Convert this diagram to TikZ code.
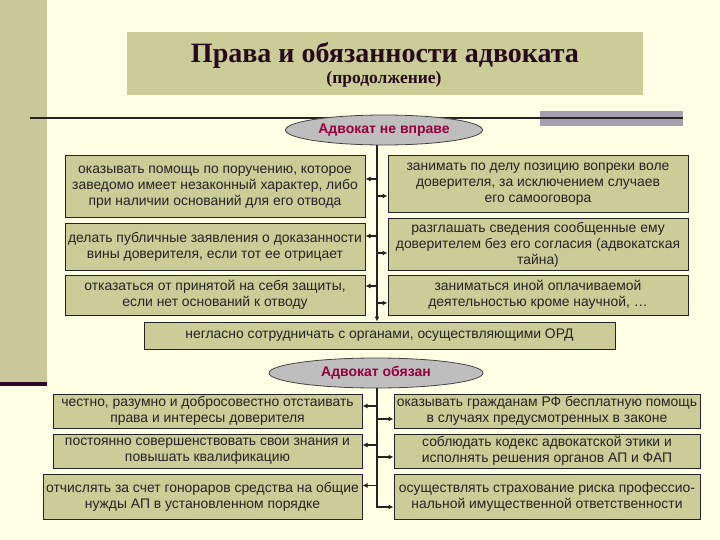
\documentclass[tikz,border=0pt]{standalone}
\usepackage{fontspec}
\setmainfont{Liberation Serif}
\setsansfont{Liberation Sans}
\usepackage{tikz}
\usetikzlibrary{arrows.meta,calc,positioning,shapes.geometric}
\definecolor{paper}{RGB}{255,255,229}
\definecolor{olive}{RGB}{204,204,153}
\definecolor{olivebar}{RGB}{200,200,155}
\definecolor{plum}{RGB}{45,10,40}
\definecolor{slate}{RGB}{165,160,175}
\definecolor{ovalgrey}{RGB}{190,190,190}
\definecolor{crimson}{RGB}{150,0,60}
\definecolor{inkdark}{RGB}{35,35,35}
\definecolor{titleink}{RGB}{40,10,30}
\tikzset{
  >={Latex[length=5pt,width=5pt]},
  flow/.style={->, line width=1.3pt, draw=inkdark},
  box/.style={
    draw=inkdark,
    line width=1pt,
    fill=olive,
    align=center,
    inner sep=0.5pt,
    text=inkdark,
    font=\sffamily\fontsize{13.9}{16}\selectfont
  },
  oval/.style={
    ellipse,
    draw=inkdark!85,
    line width=0.8pt,
    fill=ovalgrey,
    text=crimson,
    inner sep=0pt,
    font=\sffamily\bfseries\fontsize{14}{16}\selectfont
  },
  titlebox/.style={fill=olive, minimum width=516pt, minimum height=63pt}
}
\begin{document}
\begin{tikzpicture}[x=1pt,y=-1pt]
  % page
  \fill[paper] (0,0) rectangle (720,540);
  \fill[olivebar] (0,0) rectangle (47,383);
  \fill[plum] (0,382) rectangle (47,386);
  \useasboundingbox (0,0) rectangle (720,540);

  % heading
  \node[titlebox] (head) at (385,63.5) {};
  \node[font=\bfseries\fontsize{28}{30}\selectfont,text=titleink] (title) at (385,55) {Права и обязанности адвоката};
  \node[font=\bfseries\fontsize{17.5}{19}\selectfont,text=titleink] (subtitle) at (384,79) {(продолжение)};
  \fill[slate] (540,111) rectangle (683,126);
  \draw[line width=2pt,inkdark] (30,118) -- (683,118);

  % Адвокат не вправе
  \node[oval,minimum width=197pt,minimum height=30pt] (nevprave) at (384,130) {Адвокат не вправе};
  \coordinate (trunk1) at (377,145);

  \node[box,minimum width=300pt,minimum height=62pt] (forbid1) at (215,187) {оказывать помощь по поручению, которое\\заведомо имеет незаконный характер, либо\\при наличии оснований для его отвода};
  \node[box,minimum width=300pt,minimum height=46pt] (forbid2) at (215,247) {делать публичные заявления о доказанности\\вины доверителя, если тот ее отрицает};
  \node[box,minimum width=300pt,minimum height=40pt] (forbid3) at (215,295) {отказаться от принятой на себя защиты,\\если нет оснований к отводу};
  \node[box,minimum width=300pt,minimum height=57pt] (forbid4) at (538,184.5) {занимать по делу позицию вопреки воле\\доверителя, за исключением случаев\\его самооговора};
  \node[box,minimum width=300pt,minimum height=51pt] (forbid5) at (538,244.5) {разглашать сведения сообщенные ему\\доверителем без его согласия (адвокатская\\тайна)};
  \node[box,minimum width=300pt,minimum height=40pt] (forbid6) at (538,295) {заниматься иной оплачиваемой\\деятельностью кроме научной, …};
  \node[box,minimum width=471pt,minimum height=27pt] (forbid7) at (379.5,335.5) {негласно сотрудничать с органами, осуществляющими ОРД};

  \draw[flow] (trunk1) -- (trunk1 |- forbid7.north);
  \draw[flow] ($(forbid1.east -| trunk1)+(0,-8)$) -- ($(forbid1.east)+(0,-8)$);
  \draw[flow] ($(forbid2.east -| trunk1)+(0,-11)$) -- ($(forbid2.east)+(0,-11)$);
  \draw[flow] ($(forbid3.east -| trunk1)+(0,-9)$) -- ($(forbid3.east)+(0,-9)$);
  \draw[flow] ($(forbid4.west -| trunk1)+(0,11.5)$) -- ($(forbid4.west)+(0,11.5)$);
  \draw[flow] ($(forbid5.west -| trunk1)+(0,8.5)$) -- ($(forbid5.west)+(0,8.5)$);
  \draw[flow] ($(forbid6.west -| trunk1)+(0,8)$) -- ($(forbid6.west)+(0,8)$);

  % Адвокат обязан
  \node[oval,minimum width=214pt,minimum height=30pt] (obyazan) at (376,373) {Адвокат обязан};
  \coordinate (trunk2) at (377,388);

  \node[box,minimum width=309pt,minimum height=34pt] (duty1) at (207.5,411) {честно, разумно и добросовестно отстаивать\\права и интересы доверителя};
  \node[box,minimum width=309pt,minimum height=34pt] (duty2) at (207.5,451) {постоянно совершенствовать свои знания и\\повышать квалификацию};
  \node[box,minimum width=319pt,minimum height=45pt] (duty3) at (202.5,496.5) {отчислять за счет гонораров средства на общие\\нужды АП в установленном порядке};
  \node[box,minimum width=306pt,minimum height=34pt] (duty4) at (547,411) {оказывать гражданам РФ бесплатную помощь\\в случаях предусмотренных в законе};
  \node[box,minimum width=306pt,minimum height=34pt] (duty5) at (547,451) {соблюдать кодекс адвокатской этики и\\исполнять решения органов АП и ФАП};
  \node[box,minimum width=306pt,minimum height=45pt] (duty6) at (547,496.5) {осуществлять страхование риска профессио-\\нальной имущественной ответственности};

  \draw[flow] (trunk2) |- ($(duty6.west)+(0,10.5)$);
  \draw[flow] ($(duty1.east -| trunk2)+(0,-5)$) -- ($(duty1.east)+(0,-5)$);
  \draw[flow] ($(duty2.east -| trunk2)+(0,-6)$) -- ($(duty2.east)+(0,-6)$);
  \draw[flow] ($(duty3.east -| trunk2)+(0,-11)$) -- ($(duty3.east)+(0,-11)$);
  \draw[flow] ($(duty4.west -| trunk2)+(0,8)$) -- ($(duty4.west)+(0,8)$);
  \draw[flow] ($(duty5.west -| trunk2)+(0,6)$) -- ($(duty5.west)+(0,6)$);
\end{tikzpicture}
\end{document}
